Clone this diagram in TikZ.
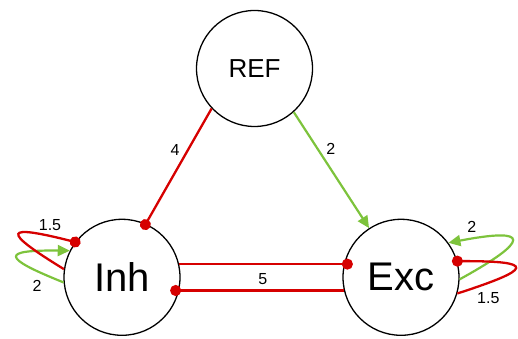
\documentclass[tikz,border=0pt]{standalone}
\usepackage{fontspec}
\setmainfont{Liberation Sans}
\usetikzlibrary{arrows.meta}
\definecolor{inhred}{RGB}{214,0,0}
\definecolor{excgreen}{RGB}{125,195,60}
\begin{document}
\begin{tikzpicture}[x=1pt,y=1pt,
  pop/.style={circle, draw=black, line width=1.3pt, fill=white,
              minimum size=116pt, inner sep=0pt},
  inhib/.style={draw=inhred, line width=2.3pt,
                -{Circle[length=11pt]}, shorten >=-5.5pt},
  excit/.style={draw=excgreen, line width=2.2pt,
                -{Triangle[length=12pt, width=11pt]}},
  wlabel/.style={font=\fontsize{16}{16}\selectfont, inner sep=0pt}]
\useasboundingbox (0,0) rectangle (518,339);

% populations
\node[pop, font=\fontsize{26}{26}\selectfont] (REF) at (254.5,270.5) {REF};
\node[pop, font=\fontsize{40}{40}\selectfont] (Inh) at (122,61.7) {Inh};
\node[pop, font=\fontsize{40}{40}\selectfont] (Exc) at (401,61.7) {Exc};

% control points of the recurrent loops
\coordinate (ig1) at (0,82);   \coordinate (ig2) at (2,89);
\coordinate (ir1) at (0,109);  \coordinate (ir2) at (4,115);
\coordinate (eg1) at (531,99); \coordinate (eg2) at (531,112);
\coordinate (er1) at (533,70); \coordinate (er2) at (537,78);

% projections between populations
\draw[inhib, shorten >=-6.5pt] (REF.223) -- (Inh.66);
\draw[excit] (REF.312) -- (Exc.123);
\draw[inhib, shorten >=-9pt] (Inh.13) -- (Exc.167);
\draw[inhib, shorten >=-9pt] (Exc.193) -- (Inh.347);

% recurrent projections
\draw[excit] (Inh.185) .. controls (ig1) and (ig2) .. (Inh.153);
\draw[inhib] (Inh.172) .. controls (ir1) and (ir2) .. (Inh.143);
\draw[excit] (Exc.-2) .. controls (eg1) and (eg2) .. (Exc.36);
\draw[inhib] (Exc.-16.5) .. controls (er1) and (er2) .. (Exc.16);

% weights
\node[wlabel] (w4)   at (175,189)     {4};
\node[wlabel] (w2)   at (330.7,189.7) {2};
\node[wlabel] (w5)   at (262.7,59.7)  {5};
\node[wlabel] (wi15) at (50,114)      {1.5};
\node[wlabel] (wi2)  at (37,53)       {2};
\node[wlabel] (we2)  at (471.7,112.3) {2};
\node[wlabel] (we15) at (488.3,40.7)  {1.5};
\end{tikzpicture}
\end{document}
